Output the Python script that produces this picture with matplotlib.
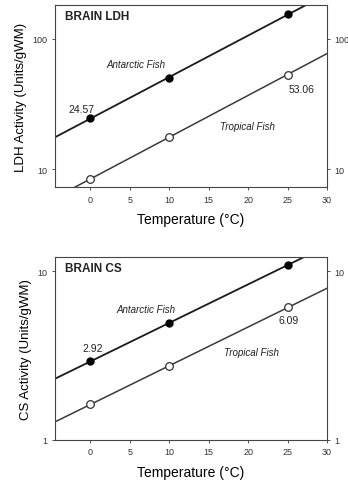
import numpy as np
from matplotlib import pyplot as plt
from matplotlib.ticker import FixedLocator, NullLocator

plt.rcParams['font.family'] = ['Liberation Sans', 'DejaVu Sans']

### Data
temps = [0, 10, 25]
ldhAntarctic = [24.57, 50.3, 153.0]
ldhTropical = [8.4, 17.7, 53.06]
csAntarctic = [2.92, 4.92, 10.9]
csTropical = [1.62, 2.74, 6.09]
xTicks = [0, 5, 10, 15, 20, 25, 30]

### Functions
def fitLine(x, y, xs):
    # regression of log10(y) on x, drawn back in linear units
    p = np.polyfit(x, np.log10(y), 1)
    return 10**np.polyval(p, xs)

def panel(ax, yA, yT, yticks, ylim, ylabel, title, notes):
    xs = np.linspace(-4.5, 30, 50)
    ax.plot(xs, fitLine(temps, yA, xs), color='#1a1a1a', lw=1.3, zorder=2)
    ax.plot(xs, fitLine(temps, yT, xs), color='#3a3a3a', lw=1.1, zorder=2)
    ax.plot(temps, yA, 'o', color='black', ms=5, zorder=3)
    ax.plot(temps, yT, 'o', mfc='white', mec='#333333', mew=0.9, ms=5.5, zorder=3)
    ax.set_yscale('log')
    ax.set_xlim(-4.5, 30)
    ax.set_ylim(*ylim)
    ax.set_xticks(xTicks)
    ax.set_xticklabels([str(t) for t in xTicks])
    ax.yaxis.set_major_locator(FixedLocator(yticks))
    ax.yaxis.set_minor_locator(NullLocator())
    ax.set_yticklabels([str(t) for t in yticks])
    ax.tick_params(axis='both', labelsize=6.5, length=2.5, width=0.6, pad=3,
                   colors='#333333', right=True, labelright=True)
    for s in ax.spines.values():
        s.set_linewidth(0.8)
        s.set_color('#444444')
    ax.set_xlabel('Temperature (\u00b0C)', fontsize=10, labelpad=6)
    ax.set_ylabel(ylabel, fontsize=9.5, labelpad=4)
    ax.text(0.037, 0.94, title, transform=ax.transAxes, fontsize=8.5,
            fontweight='bold', va='center', ha='left', color='#222222')
    for (x, y, s, style) in notes:
        ax.text(x, y, s, fontsize=7.5 if style == 'normal' else 7,
                style=style, ha='center', va='center', color='#222222')

fig = plt.figure(figsize=(3.48, 4.81), dpi=100)
axL = fig.add_axes([0.158, 0.609, 0.782, 0.378])
axC = fig.add_axes([0.158, 0.084, 0.782, 0.379])

panel(axL, ldhAntarctic, ldhTropical, [10, 100], (7.3, 180),
      'LDH Activity (Units/gWM)', 'BRAIN LDH',
      [(5.8, 63.5, 'Antarctic Fish', 'italic'),
       (19.9, 21.4, 'Tropical Fish', 'italic'),
       (-1.15, 29.1, '24.57', 'normal'),
       (26.8, 41.4, '53.06', 'normal')])

panel(axC, csAntarctic, csTropical, [1, 10], (1.0, 12.1),
      'CS Activity (Units/gWM)', 'BRAIN CS',
      [(7.0, 6.0, 'Antarctic Fish', 'italic'),
       (20.4, 3.33, 'Tropical Fish', 'italic'),
       (0.33, 3.52, '2.92', 'normal'),
       (25.1, 5.13, '6.09', 'normal')])

fig.savefig('out.png', dpi=100)
